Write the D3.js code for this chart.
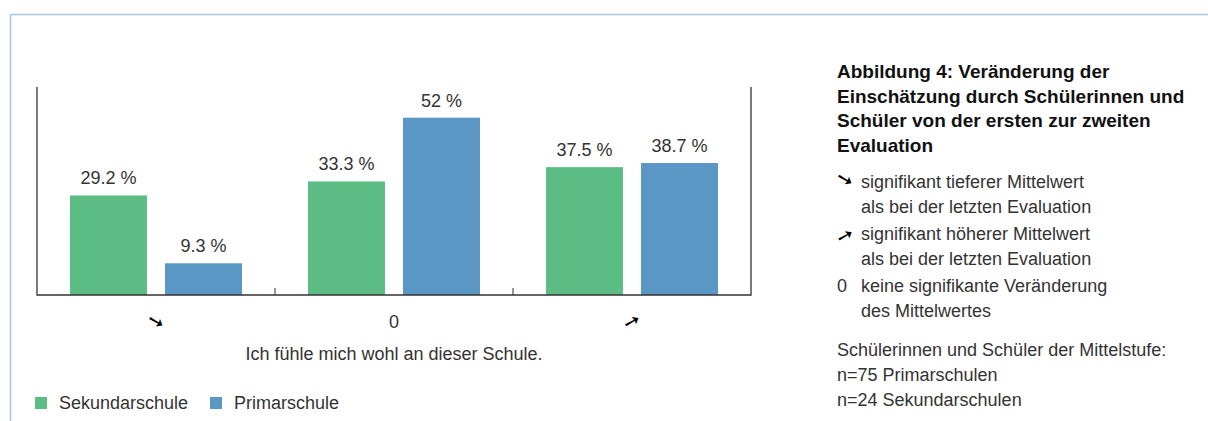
<!DOCTYPE html>
<html lang="de">
<head>
<meta charset="UTF-8">
<title>Abbildung 4</title>
<script src="https://d3js.org/d3.v7.min.js"></script>
<style>
  body { margin: 0; background: #fff; }
  svg text { font-family: "Liberation Sans", Arial, sans-serif; fill: #333; }
</style>
</head>
<body>
<svg width="1208" height="421"></svg>
<script>
// data
var groups = ["down", "none", "up"];
var tickLabels = ["\u2798", "0", "\u279A"];
var series = ["Sekundarschule", "Primarschule"];
var sekundarschule = [29.2, 33.3, 37.5];
var primarschule = [9.3, 52, 38.7];
var axisTitle = "Ich fühle mich wohl an dieser Schule.";
var titleLines = ["Abbildung 4: Veränderung der", "Einschätzung durch Schülerinnen und",
                  "Schüler von der ersten zur zweiten", "Evaluation"];
var noteSymbols = ["\u2798", "\u279A", "0"];
var noteLines = [["signifikant tieferer Mittelwert", "als bei der letzten Evaluation"],
                 ["signifikant höherer Mittelwert", "als bei der letzten Evaluation"],
                 ["keine signifikante Veränderung", "des Mittelwertes"]];
var sampleLines = ["Schülerinnen und Schüler der Mittelstufe:", "n=75 Primarschulen", "n=24 Sekundarschulen"];

var colors = { "Sekundarschule": "#5bbd83", "Primarschule": "#5a97c4" };
// arrows in the reference are a bit flatter than 45 degrees
var arrowTilt = { "\u2798": -15, "\u279A": 15 };

var svg = d3.select("svg");

// frame
svg.append("path")
    .attr("d", "M10.5,421 V14.5 H1208")
    .attr("fill", "none")
    .attr("stroke", "#a9c5e6")
    .attr("stroke-width", 1.5);

var plotLeft = 37, plotRight = 751, plotTop = 87, plotBottom = 295;

var x0 = d3.scaleBand().domain(groups).range([plotLeft, plotRight]);
var x1 = d3.scaleBand().domain(series).range([0, x0.bandwidth()])
    .paddingInner(0.19).paddingOuter(0.347);
var y = d3.scaleLinear().domain([0, 61]).range([plotBottom, plotTop]);

var rows = groups.map(function (g, i) {
    return { group: g, values: [
        { key: "Sekundarschule", value: sekundarschule[i] },
        { key: "Primarschule", value: primarschule[i] }] };
});

var g = svg.selectAll(".grp")
    .data(rows)
    .join("g")
    .attr("transform", function (d) { return "translate(" + x0(d.group) + ",0)"; });

g.selectAll("rect")
    .data(function (d) { return d.values; })
    .join("rect")
    .attr("x", function (d) { return x1(d.key); })
    .attr("width", x1.bandwidth())
    .attr("y", function (d) { return y(d.value); })
    .attr("height", function (d) { return plotBottom - y(d.value); })
    .attr("fill", function (d) { return colors[d.key]; });

g.selectAll("text")
    .data(function (d) { return d.values; })
    .join("text")
    .attr("x", function (d) { return x1(d.key) + x1.bandwidth() / 2; })
    .attr("y", function (d) { return y(d.value) - 11; })
    .attr("text-anchor", "middle")
    .style("font-size", "18px")
    .text(function (d) { return d3.format("")(d.value) + " %"; });

// box lines
svg.append("path")
    .attr("d", "M" + plotLeft + "," + plotTop + " V" + plotBottom + " H" + plotRight + " V" + plotTop)
    .attr("fill", "none")
    .attr("stroke", "#333")
    .attr("stroke-width", 1.3);

// inner ticks between groups
svg.selectAll(".tick-sep")
    .data(groups.slice(1))
    .join("line")
    .attr("x1", function (d) { return x0(d); })
    .attr("x2", function (d) { return x0(d); })
    .attr("y1", plotBottom)
    .attr("y2", plotBottom - 7)
    .attr("stroke", "#333")
    .attr("stroke-width", 1);

// draws either the "0" or an arrow glyph
function symbolText(sel, sym, x, yy) {
    var t = sel.append("text")
        .attr("x", x)
        .attr("y", yy)
        .text(sym);
    if (sym === "0") {
        t.style("font-size", "18px");
    } else {
        t.style("font-size", "20px")
            .style("font-family", "DejaVu Sans")
            .style("font-weight", "bold")
            .style("fill", "#000")
            .attr("transform", "rotate(" + arrowTilt[sym] + "," + x + "," + (yy - 6) + ")");
    }
    return t;
}

// x tick labels
groups.forEach(function (d, i) {
    symbolText(svg, tickLabels[i], x0(d) + x0.bandwidth() / 2, 328)
        .attr("text-anchor", "middle");
});

svg.append("text")
    .attr("x", (plotLeft + plotRight) / 2)
    .attr("y", 360)
    .attr("text-anchor", "middle")
    .style("font-size", "18px")
    .text(axisTitle);

// legend
var leg = svg.selectAll(".leg")
    .data(series)
    .join("g")
    .attr("transform", function (d, i) { return "translate(" + (35 + i * 175) + ",397)"; });
leg.append("rect").attr("width", 12).attr("height", 12)
    .attr("fill", function (d) { return colors[d]; });
leg.append("text").attr("x", 24).attr("y", 12)
    .style("font-size", "18px")
    .text(function (d) { return d; });

// right panel
var tx = 837;
svg.selectAll(".title")
    .data(titleLines)
    .join("text")
    .attr("x", tx)
    .attr("y", function (d, i) { return 78 + i * 24.5; })
    .style("font-size", "19px")
    .style("font-weight", "bold")
    .style("fill", "#111")
    .text(function (d) { return d; });

var noteY = [188, 240, 292];
noteLines.forEach(function (lines, i) {
    symbolText(svg, noteSymbols[i], tx, noteY[i]);
    lines.forEach(function (l, j) {
        svg.append("text")
            .attr("x", tx + 24)
            .attr("y", noteY[i] + j * 25)
            .style("font-size", "18px")
            .text(l);
    });
});

svg.selectAll(".sample")
    .data(sampleLines)
    .join("text")
    .attr("x", tx)
    .attr("y", function (d, i) { return 356 + i * 25; })
    .style("font-size", "18px")
    .text(function (d) { return d; });
</script>
</body>
</html>
